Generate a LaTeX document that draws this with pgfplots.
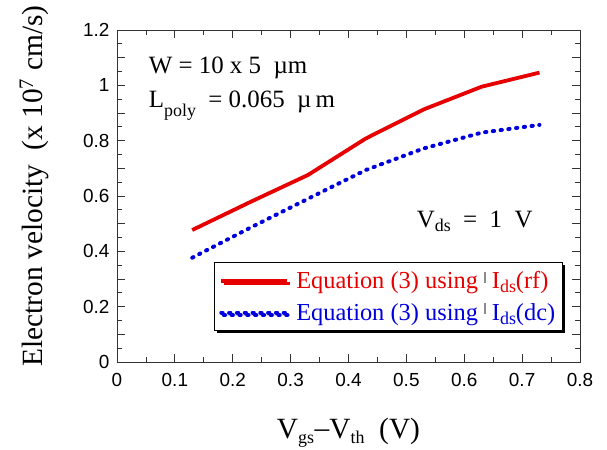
\documentclass[border=0pt]{standalone}
\usepackage{pgfplots}
\pgfplotsset{compat=1.18}
\usepackage{fontspec}
\setmainfont{Liberation Serif}
\setsansfont{Liberation Sans}
\usetikzlibrary{shadows}

\definecolor{curvered}{RGB}{230,0,0}
\definecolor{curveblue}{RGB}{0,0,220}

% velocity extracted from the rf and dc drain currents
\pgfplotstableread{
x     v
0.13  0.477
0.23  0.578
0.33  0.676
0.43  0.808
0.53  0.913
0.63  0.995
0.73  1.046
}\rfdata
\pgfplotstableread{
x     v
0.13  0.377
0.23  0.485
0.33  0.590
0.43  0.694
0.53  0.772
0.63  0.829
0.73  0.857
}\dcdata

\newcommand{\sub}[1]{\raisebox{-0.35ex}{\fontsize{18}{18}\selectfont #1}}
\newcommand{\glyphbar}{\textcolor{black!45}{\rule[0.55ex]{0.07em}{0.95ex}}}

\tikzset{bluedots/.style={curveblue, line width=4bp, line cap=round, dash pattern=on 1.3bp off 6.5bp}}

\begin{document}
\begin{tikzpicture}
\begin{axis}[
  scale only axis,
  width=463bp, height=332bp,
  xmin=0, xmax=0.8, ymin=0, ymax=1.2,
  xtick={0,0.1,...,0.8},
  xticklabels={0,0.1,0.2,0.3,0.4,0.5,0.6,0.7,0.8},
  ytick={0,0.1,...,1.2},
  yticklabels={0,,0.2,,0.4,,0.6,,0.8,,1,,1.2},
  minor x tick num=1,
  minor y tick num=1,
  tick align=inside,
  major tick length=8bp,
  minor tick length=5bp,
  every tick/.style={black!80, line width=0.8bp},
  axis line style={black!80, line width=0.9bp},
  /pgf/number format/assume math mode=true,
  tick label style={font=\sffamily\fontsize{19}{19}\selectfont, black},
  xticklabel style={yshift=-8bp},
  yticklabel style={xshift=-4bp},
  xlabel={V\sub{gs}\hspace{0.5pt}\raisebox{0.1ex}{–}V\sub{th}\ \ (V)},
  ylabel={Electron velocity\ \ (x 10\textsuperscript{7} cm/s)},
  label style={font=\fontsize{29.5}{29.5}\selectfont},
  xlabel style={at={(axis description cs:0.5,-0.213)}, anchor=center},
  ylabel style={at={(axis description cs:-0.179,0.53)}, anchor=center},
  legend style={
    at={(0.963,0.301)}, anchor=north east,
    draw=black, line width=1.2bp, fill=white,
    drop shadow={shadow xshift=2.5bp, shadow yshift=-2.5bp, fill=black, opacity=1},
    font=\fontsize{24.5}{24.5}\selectfont,
    row sep=9bp, column sep=5bp, inner xsep=5bp, inner ysep=7bp,
    legend cell align=left,
  },
  legend image code/.code={\draw[#1] (0bp,0bp) -- (66bp,0bp);},
  clip=false,
]
\addplot[curvered, line width=3.8bp] table[x=x, y=v] {\rfdata};
\addlegendentry{\textcolor{curvered}{Equation (3) using \glyphbar{} I\sub{ds}(rf)}}
\addplot[bluedots] table[x=x, y=v] {\dcdata};
\addlegendentry{\textcolor{curveblue}{Equation (3) using \glyphbar{} I\sub{ds}(dc)}}

\node[anchor=base west, font=\fontsize{25}{25}\selectfont] at (axis cs:0.049,1.043) {W = 10 x 5\ \ µm};
\node[anchor=base west, font=\fontsize{25}{25}\selectfont] at (axis cs:0.049,0.92) {L\raisebox{-0.8ex}{\fontsize{18}{18}\selectfont poly}\ \ = 0.065\ \ µ\,m};
\node[anchor=base west, font=\fontsize{25}{25}\selectfont] at (axis cs:0.512,0.485) {V\sub{ds}\ \ =\ \ 1\ \ V};
\end{axis}
\pgfresetboundingbox
\path ([shift={(-117bp,-88bp)}]current axis.south west) rectangle ([shift={(27bp,30bp)}]current axis.north east);
\end{tikzpicture}
\end{document}
